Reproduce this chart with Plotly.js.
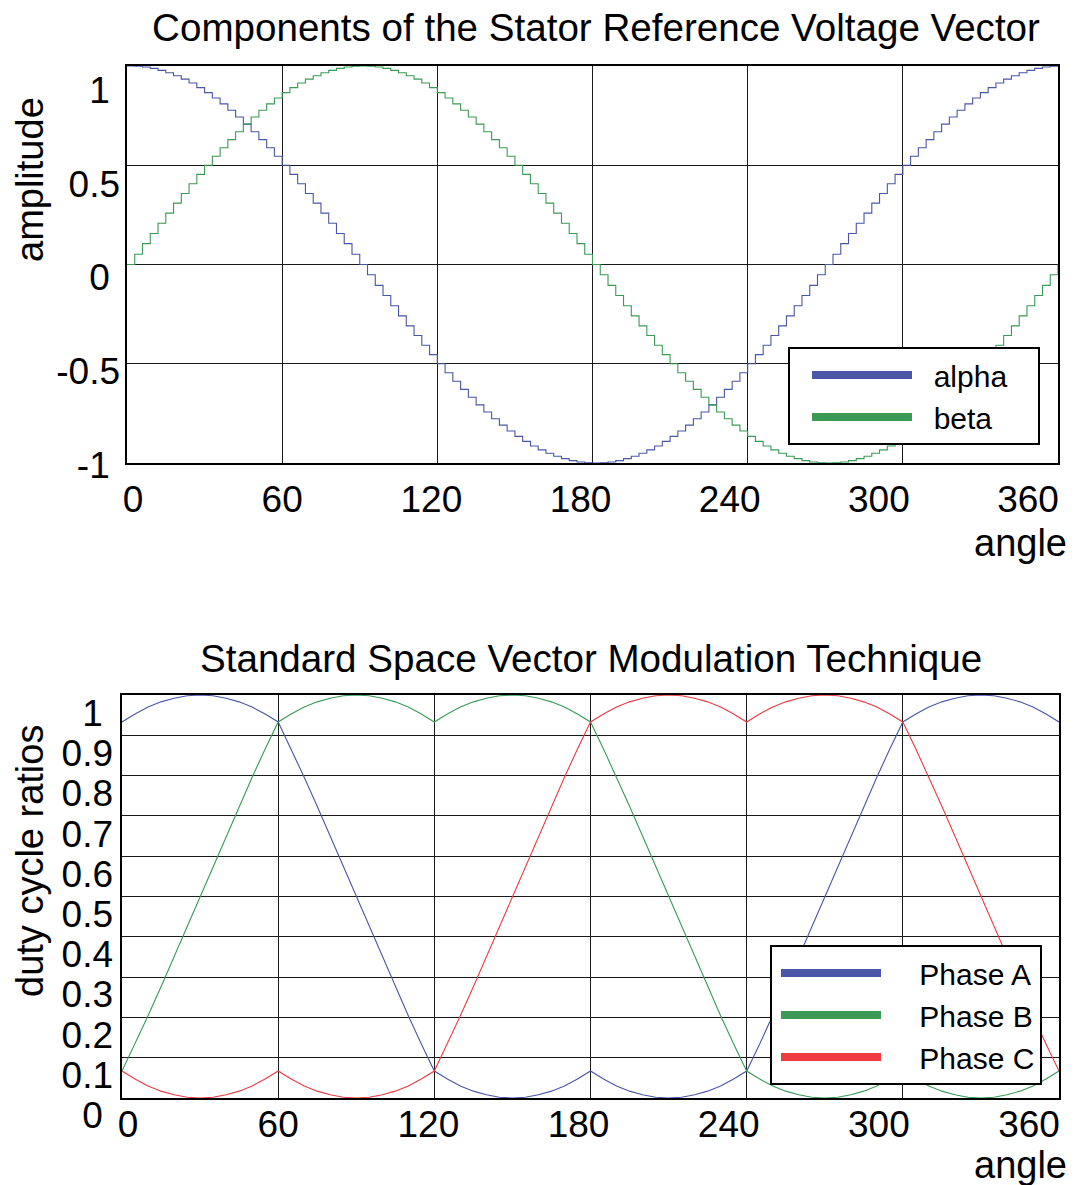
<!DOCTYPE html>
<html><head><meta charset="utf-8">
<script src="https://cdn.plot.ly/plotly-3.0.1.min.js"></script>
<style>html,body{margin:0;padding:0;background:#fff;} #chart{width:1075px;height:1185px;}</style>
</head><body><div id="chart"></div>
<script>
// ---- Top chart: components of the stator reference voltage vector ----
const angleTop = [0,3,6,9,12,15,18,21,24,27,30,33,36,39,42,45,48,51,54,57,60,63,66,69,72,75,78,81,84,87,90,
93,96,99,102,105,108,111,114,117,120,123,126,129,132,135,138,141,144,147,150,153,156,159,162,165,168,171,174,177,180,
183,186,189,192,195,198,201,204,207,210,213,216,219,222,225,228,231,234,237,240,243,246,249,252,255,258,261,264,267,270,
273,276,279,282,285,288,291,294,297,300,303,306,309,312,315,318,321,324,327,330,333,336,339,342,345,348,351,354,357,360];
const alpha = [1,.999,.995,.988,.978,.966,.951,.934,.914,.891,.866,.839,.809,.777,.743,.707,.669,.629,.588,.545,.5,.454,.407,.358,.309,.259,.208,.156,.105,.052,0,
-.052,-.105,-.156,-.208,-.259,-.309,-.358,-.407,-.454,-.5,-.545,-.588,-.629,-.669,-.707,-.743,-.777,-.809,-.839,-.866,-.891,-.914,-.934,-.951,-.966,-.978,-.988,-.995,-.999,-1,
-.999,-.995,-.988,-.978,-.966,-.951,-.934,-.914,-.891,-.866,-.839,-.809,-.777,-.743,-.707,-.669,-.629,-.588,-.545,-.5,-.454,-.407,-.358,-.309,-.259,-.208,-.156,-.105,-.052,0,
.052,.105,.156,.208,.259,.309,.358,.407,.454,.5,.545,.588,.629,.669,.707,.743,.777,.809,.839,.866,.891,.914,.934,.951,.966,.978,.988,.995,.999,1];
const beta = [0,.052,.105,.156,.208,.259,.309,.358,.407,.454,.5,.545,.588,.629,.669,.707,.743,.777,.809,.839,.866,.891,.914,.934,.951,.966,.978,.988,.995,.999,1,
.999,.995,.988,.978,.966,.951,.934,.914,.891,.866,.839,.809,.777,.743,.707,.669,.629,.588,.545,.5,.454,.407,.358,.309,.259,.208,.156,.105,.052,0,
-.052,-.105,-.156,-.208,-.259,-.309,-.358,-.407,-.454,-.5,-.545,-.588,-.629,-.669,-.707,-.743,-.777,-.809,-.839,-.866,-.891,-.914,-.934,-.951,-.966,-.978,-.988,-.995,-.999,-1,
-.999,-.995,-.988,-.978,-.966,-.951,-.934,-.914,-.891,-.866,-.839,-.809,-.777,-.743,-.707,-.669,-.629,-.588,-.545,-.5,-.454,-.407,-.358,-.309,-.259,-.208,-.156,-.105,-.052,0];

// ---- Bottom chart: standard space vector modulation duty cycles ----
const angleBottom = [0,5,10,15,20,25,30,35,40,45,50,55,60,65,70,75,80,85,90,95,100,105,110,115,120,
125,130,135,140,145,150,155,160,165,170,175,180,185,190,195,200,205,210,215,220,225,230,235,240,
245,250,255,260,265,270,275,280,285,290,295,300,305,310,315,320,325,330,335,340,345,350,355,360];
const phaseA = [.933,.953,.970,.983,.992,.998,1,.998,.992,.983,.970,.953,.933,.866,.796,.724,.650,.576,.5,.424,.350,.276,.204,.134,.067,
.047,.030,.017,.008,.002,0,.002,.008,.017,.030,.047,.067,.047,.030,.017,.008,.002,0,.002,.008,.017,.030,.047,.067,
.134,.204,.276,.350,.424,.5,.576,.650,.724,.796,.866,.933,.953,.970,.983,.992,.998,1,.998,.992,.983,.970,.953,.933];
const phaseB = [.067,.134,.204,.276,.350,.424,.5,.576,.650,.724,.796,.866,.933,.953,.970,.983,.992,.998,1,.998,.992,.983,.970,.953,.933,
.953,.970,.983,.992,.998,1,.998,.992,.983,.970,.953,.933,.866,.796,.724,.650,.576,.5,.424,.350,.276,.204,.134,.067,
.047,.030,.017,.008,.002,0,.002,.008,.017,.030,.047,.067,.047,.030,.017,.008,.002,0,.002,.008,.017,.030,.047,.067];
const phaseC = [.067,.047,.030,.017,.008,.002,0,.002,.008,.017,.030,.047,.067,.047,.030,.017,.008,.002,0,.002,.008,.017,.030,.047,.067,
.134,.204,.276,.350,.424,.5,.576,.650,.724,.796,.866,.933,.953,.970,.983,.992,.998,1,.998,.992,.983,.970,.953,.933,
.953,.970,.983,.992,.998,1,.998,.992,.983,.970,.953,.933,.866,.796,.724,.650,.576,.5,.424,.350,.276,.204,.134,.067];

// ---- Tick labels ----
const angleTicks = [0,60,120,180,240,300,360];
const angleLabels = ['0','60','120','180','240','300','360'];
const ampTicks = [-1,-0.5,0,0.5,1];
const ampLabels = ['-1\u00a0','-0.5','0\u00a0','0.5','1\u00a0'];
const dutyTicks = [0,0.1,0.2,0.3,0.4,0.5,0.6,0.7,0.8,0.9,1];
const dutyLabels = ['0\u00a0','0.1','0.2','0.3','0.4','0.5','0.6','0.7','0.8','0.9','1\u00a0'];

const FONT = 'Liberation Sans, Arial, Helvetica, sans-serif';
const BLUE = '#4a56a6', GREEN = '#3a9a56', RED = '#ee3a40';
const W = 1075, H = 1185;
const px = v => v / W, py = v => 1 - v / H;
const NB = '\u00a0';

const traces = [
  {x: angleTop, y: alpha, xaxis: 'x', yaxis: 'y', mode: 'lines', line: {color: BLUE, width: 1.1, shape: 'hv'}, showlegend: false, hoverinfo: 'skip'},
  {x: angleTop, y: beta, xaxis: 'x', yaxis: 'y', mode: 'lines', line: {color: GREEN, width: 1.1, shape: 'hv'}, showlegend: false, hoverinfo: 'skip'},
  {x: [null], y: [null], xaxis: 'x', yaxis: 'y', mode: 'lines', name: NB + NB + 'alpha' + NB + NB + NB, line: {color: BLUE, width: 8}, legend: 'legend'},
  {x: [null], y: [null], xaxis: 'x', yaxis: 'y', mode: 'lines', name: NB + NB + 'beta', line: {color: GREEN, width: 8}, legend: 'legend'},
  {x: angleBottom, y: phaseA, xaxis: 'x2', yaxis: 'y2', mode: 'lines', line: {color: BLUE, width: 1.1}, showlegend: false, hoverinfo: 'skip'},
  {x: angleBottom, y: phaseB, xaxis: 'x2', yaxis: 'y2', mode: 'lines', line: {color: GREEN, width: 1.1}, showlegend: false, hoverinfo: 'skip'},
  {x: angleBottom, y: phaseC, xaxis: 'x2', yaxis: 'y2', mode: 'lines', line: {color: RED, width: 1.1}, showlegend: false, hoverinfo: 'skip'},
  {x: [null], y: [null], xaxis: 'x2', yaxis: 'y2', mode: 'lines', name: NB + NB + NB + NB + 'Phase A', line: {color: BLUE, width: 8}, legend: 'legend2'},
  {x: [null], y: [null], xaxis: 'x2', yaxis: 'y2', mode: 'lines', name: NB + NB + NB + NB + 'Phase B', line: {color: GREEN, width: 8}, legend: 'legend2'},
  {x: [null], y: [null], xaxis: 'x2', yaxis: 'y2', mode: 'lines', name: NB + NB + NB + NB + 'Phase C', line: {color: RED, width: 8}, legend: 'legend2'},
  // carriers for the tick-label axes
  {x: [], y: [], xaxis: 'x3', yaxis: 'y3', mode: 'lines', showlegend: false, hoverinfo: 'skip'},
  {x: [], y: [], xaxis: 'x4', yaxis: 'y4', mode: 'lines', showlegend: false, hoverinfo: 'skip'}
];

const mainAxis = (extra) => Object.assign({
  showticklabels: false, ticks: '', showgrid: true, gridcolor: '#1a1a1a', gridwidth: 1,
  showline: true, mirror: true, linecolor: '#000', linewidth: 2, zeroline: false, fixedrange: true
}, extra);
const labelAxis = (extra) => Object.assign({
  showline: false, showgrid: false, zeroline: false, ticks: '', fixedrange: true,
  tickfont: {family: FONT, size: 37, color: '#000'}, tickmode: 'array'
}, extra);

const layout = {
  width: W, height: H,
  margin: {l: 0, r: 0, t: 0, b: 0},
  paper_bgcolor: '#fff', plot_bgcolor: 'rgba(0,0,0,0)',
  font: {family: FONT, color: '#000'},
  title: {text: 'Components of the Stator Reference Voltage Vector', font: {family: FONT, size: 38.6, color: '#000'},
    x: px(596), xanchor: 'center', y: py(27), yanchor: 'middle', xref: 'paper', yref: 'paper'},
  xaxis: mainAxis({domain: [px(127), px(1058)], range: [0, 360], anchor: 'y', tickvals: angleTicks}),
  yaxis: mainAxis({domain: [py(463), py(66)], range: [-1, 1], anchor: 'x', tickvals: ampTicks}),
  xaxis2: mainAxis({domain: [px(122), px(1059)], range: [0, 360], anchor: 'y2', tickvals: angleTicks}),
  yaxis2: mainAxis({domain: [py(1098), py(695)], range: [0, 1], anchor: 'x2', tickvals: dutyTicks}),
  xaxis3: labelAxis({domain: [px(133), px(1028)], range: [0, 360], anchor: 'free', position: py(474), tickvals: angleTicks, ticktext: angleLabels}),
  yaxis3: labelAxis({domain: [py(465), py(90)], range: [-1, 1], anchor: 'free', position: px(120), tickvals: ampTicks, ticktext: ampLabels}),
  xaxis4: labelAxis({domain: [px(128), px(1029)], range: [0, 360], anchor: 'free', position: py(1099), tickvals: angleTicks, ticktext: angleLabels}),
  yaxis4: labelAxis({domain: [py(1115), py(713)], range: [0, 1], anchor: 'free', position: px(113), tickvals: dutyTicks, ticktext: dutyLabels}),
  legend: {x: px(788), y: py(347), xanchor: 'left', yanchor: 'top', bgcolor: '#fff', bordercolor: '#000', borderwidth: 2,
    font: {family: FONT, size: 30, color: '#000'}, itemwidth: 100, tracegroupgap: 0, indentation: 17},
  legend2: {x: px(770), y: py(945), xanchor: 'left', yanchor: 'top', bgcolor: '#fff', bordercolor: '#000', borderwidth: 2,
    font: {family: FONT, size: 30, color: '#000'}, itemwidth: 100, tracegroupgap: 0, indentation: 4},
  annotations: [
    {text: 'Standard Space Vector Modulation Technique', xref: 'paper', yref: 'paper', x: px(591), y: py(658),
      xanchor: 'center', yanchor: 'middle', showarrow: false, font: {family: FONT, size: 38.6, color: '#000'}},
    {text: 'amplitude', xref: 'paper', yref: 'paper', x: px(30), y: py(180), textangle: -90,
      xanchor: 'center', yanchor: 'middle', showarrow: false, font: {family: FONT, size: 38, color: '#000'}},
    {text: 'duty cycle ratios', xref: 'paper', yref: 'paper', x: px(30), y: py(861), textangle: -90,
      xanchor: 'center', yanchor: 'middle', showarrow: false, font: {family: FONT, size: 38, color: '#000'}},
    {text: 'angle', xref: 'paper', yref: 'paper', x: px(1069), y: py(543),
      xanchor: 'right', yanchor: 'middle', showarrow: false, font: {family: FONT, size: 38, color: '#000'}},
    {text: 'angle', xref: 'paper', yref: 'paper', x: px(1069), y: py(1165),
      xanchor: 'right', yanchor: 'middle', showarrow: false, font: {family: FONT, size: 38, color: '#000'}}
  ]
};

Plotly.newPlot('chart', traces, layout, {staticPlot: true, displayModeBar: false});
</script>
</body></html>
